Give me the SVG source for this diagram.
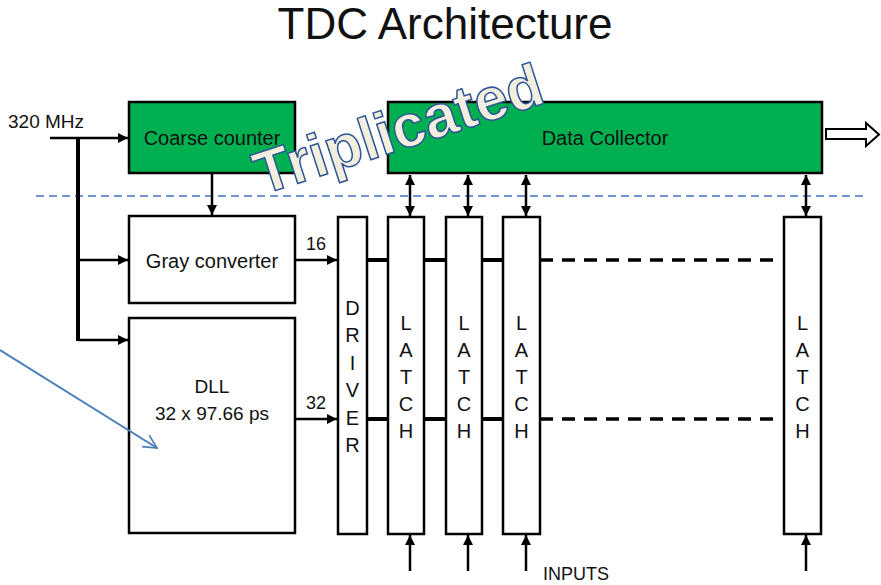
<svg xmlns="http://www.w3.org/2000/svg" width="881" height="585" viewBox="0 0 881 585">
<style>
text{font-family:"Liberation Sans",Arial,sans-serif;fill:#111}
.box{fill:#fff;stroke:#000;stroke-width:2.5}
.green{fill:#00B050;stroke:#000;stroke-width:2.5}
.ln{stroke:#000;stroke-width:2.5;fill:none}
.bus{stroke:#000;stroke-width:4;fill:none}
.dash{stroke:#000;stroke-width:3.5;fill:none;stroke-dasharray:13 9}
.lbl{font-size:20px;text-anchor:middle}
.vl{font-size:20px;text-anchor:middle}
</style>
<defs>
<marker id="ah" viewBox="0 0 10 10" refX="10" refY="5" markerWidth="4" markerHeight="4" orient="auto-start-reverse" markerUnits="strokeWidth">
<path d="M0,0 L10,5 L0,10 z" fill="#000"/>
</marker>
<marker id="bh" viewBox="0 0 12 12" refX="11" refY="6" markerWidth="8" markerHeight="8" orient="auto" markerUnits="strokeWidth">
<path d="M1,1 L11,6 L1,11" fill="none" stroke="#4a7ebb" stroke-width="1.2"/>
</marker>
</defs>
<rect width="881" height="585" fill="#fff"/>
<text x="445" y="39" font-size="44" text-anchor="middle">TDC Architecture</text>
<text x="8" y="128" font-size="19">320 MHz</text>
<line x1="36" y1="196" x2="866" y2="196" stroke="#4472C4" stroke-width="1.3" stroke-dasharray="8 5"/>
<g id="coarse"><rect class="green" x="129" y="102" width="166" height="71"/><text class="lbl" x="212" y="145">Coarse counter</text></g>
<g id="collector"><rect class="green" x="388" y="102" width="434" height="71"/><text class="lbl" x="605" y="145">Data Collector</text></g>
<g id="gray"><rect class="box" x="129" y="216" width="166" height="87"/><text class="lbl" x="212" y="268">Gray converter</text></g>
<g id="dll"><rect class="box" x="129" y="318" width="166" height="215"/><text class="lbl" x="212" y="393" style="font-size:19px">DLL</text><text class="lbl" x="212" y="420" style="font-size:19px">32 x 97.66 ps</text></g>
<g id="driver"><rect class="box" x="338" y="217" width="29" height="317"/>
<text class="vl" x="352.5" y="315">D</text><text class="vl" x="352.5" y="342">R</text><text class="vl" x="352.5" y="370">I</text><text class="vl" x="352.5" y="397">V</text><text class="vl" x="352.5" y="425">E</text><text class="vl" x="352.5" y="452">R</text></g>
<g id="latch1"><rect class="box" x="388" y="217" width="36" height="317"/>
<text class="vl" x="406" y="330">L</text><text class="vl" x="406" y="357">A</text><text class="vl" x="406" y="384">T</text><text class="vl" x="406" y="411">C</text><text class="vl" x="406" y="438">H</text></g>
<g id="latch2"><rect class="box" x="446" y="217" width="36" height="317"/>
<text class="vl" x="464" y="330">L</text><text class="vl" x="464" y="357">A</text><text class="vl" x="464" y="384">T</text><text class="vl" x="464" y="411">C</text><text class="vl" x="464" y="438">H</text></g>
<g id="latch3"><rect class="box" x="503" y="217" width="37" height="317"/>
<text class="vl" x="521.5" y="330">L</text><text class="vl" x="521.5" y="357">A</text><text class="vl" x="521.5" y="384">T</text><text class="vl" x="521.5" y="411">C</text><text class="vl" x="521.5" y="438">H</text></g>
<g id="latch4"><rect class="box" x="784" y="217" width="37" height="317"/>
<text class="vl" x="802.5" y="330">L</text><text class="vl" x="802.5" y="357">A</text><text class="vl" x="802.5" y="384">T</text><text class="vl" x="802.5" y="411">C</text><text class="vl" x="802.5" y="438">H</text></g>
<g id="connectors">
<line class="ln" x1="50" y1="138" x2="128" y2="138" marker-end="url(#ah)"/>
<line x1="78" y1="137" x2="78" y2="341" stroke="#000" stroke-width="4"/>
<line class="ln" x1="78" y1="260" x2="128" y2="260" marker-end="url(#ah)"/>
<line class="ln" x1="78" y1="340" x2="128" y2="340" marker-end="url(#ah)"/>
<line class="ln" x1="212" y1="174" x2="212" y2="215" marker-end="url(#ah)"/>
<line class="ln" x1="295" y1="260" x2="337" y2="260" marker-end="url(#ah)"/>
<line class="ln" x1="295" y1="419" x2="337" y2="419" marker-end="url(#ah)"/>
<text x="316" y="250" font-size="18" text-anchor="middle">16</text>
<text x="316" y="409" font-size="18" text-anchor="middle">32</text>
<path class="bus" d="M367,260H388M424,260H446M482,260H503M367,419H388M424,419H446M482,419H503"/>
<line class="dash" x1="540" y1="260" x2="776" y2="260"/>
<line class="dash" x1="540" y1="419" x2="776" y2="419"/>
<line class="ln" x1="410" y1="175" x2="410" y2="216" marker-start="url(#ah)" marker-end="url(#ah)"/>
<line class="ln" x1="468" y1="175" x2="468" y2="216" marker-start="url(#ah)" marker-end="url(#ah)"/>
<line class="ln" x1="526" y1="175" x2="526" y2="216" marker-start="url(#ah)" marker-end="url(#ah)"/>
<line class="ln" x1="806" y1="175" x2="806" y2="216" marker-start="url(#ah)" marker-end="url(#ah)"/>
<line class="ln" x1="410" y1="571" x2="410" y2="535" stroke-width="3" marker-end="url(#ah)"/>
<line class="ln" x1="468" y1="571" x2="468" y2="535" stroke-width="3" marker-end="url(#ah)"/>
<line class="ln" x1="526" y1="571" x2="526" y2="535" stroke-width="3" marker-end="url(#ah)"/>
<line class="ln" x1="806" y1="571" x2="806" y2="535" stroke-width="3" marker-end="url(#ah)"/>
<polygon points="826,129 866,129 866,123 879,134.5 866,146 866,139 826,139" fill="#fff" stroke="#000" stroke-width="2"/>
<line x1="0" y1="350" x2="157" y2="448" stroke="#4a7ebb" stroke-width="2" marker-end="url(#bh)"/>
</g>
<text x="543" y="580" font-size="18">INPUTS</text>
<text x="262" y="195" transform="rotate(-18 262 195)" font-size="60" font-weight="bold" style="fill:#F2EFDF;stroke:#2F5597;stroke-width:1.5;font-family:'Liberation Sans',Arial,sans-serif">Triplicated</text>
</svg>
